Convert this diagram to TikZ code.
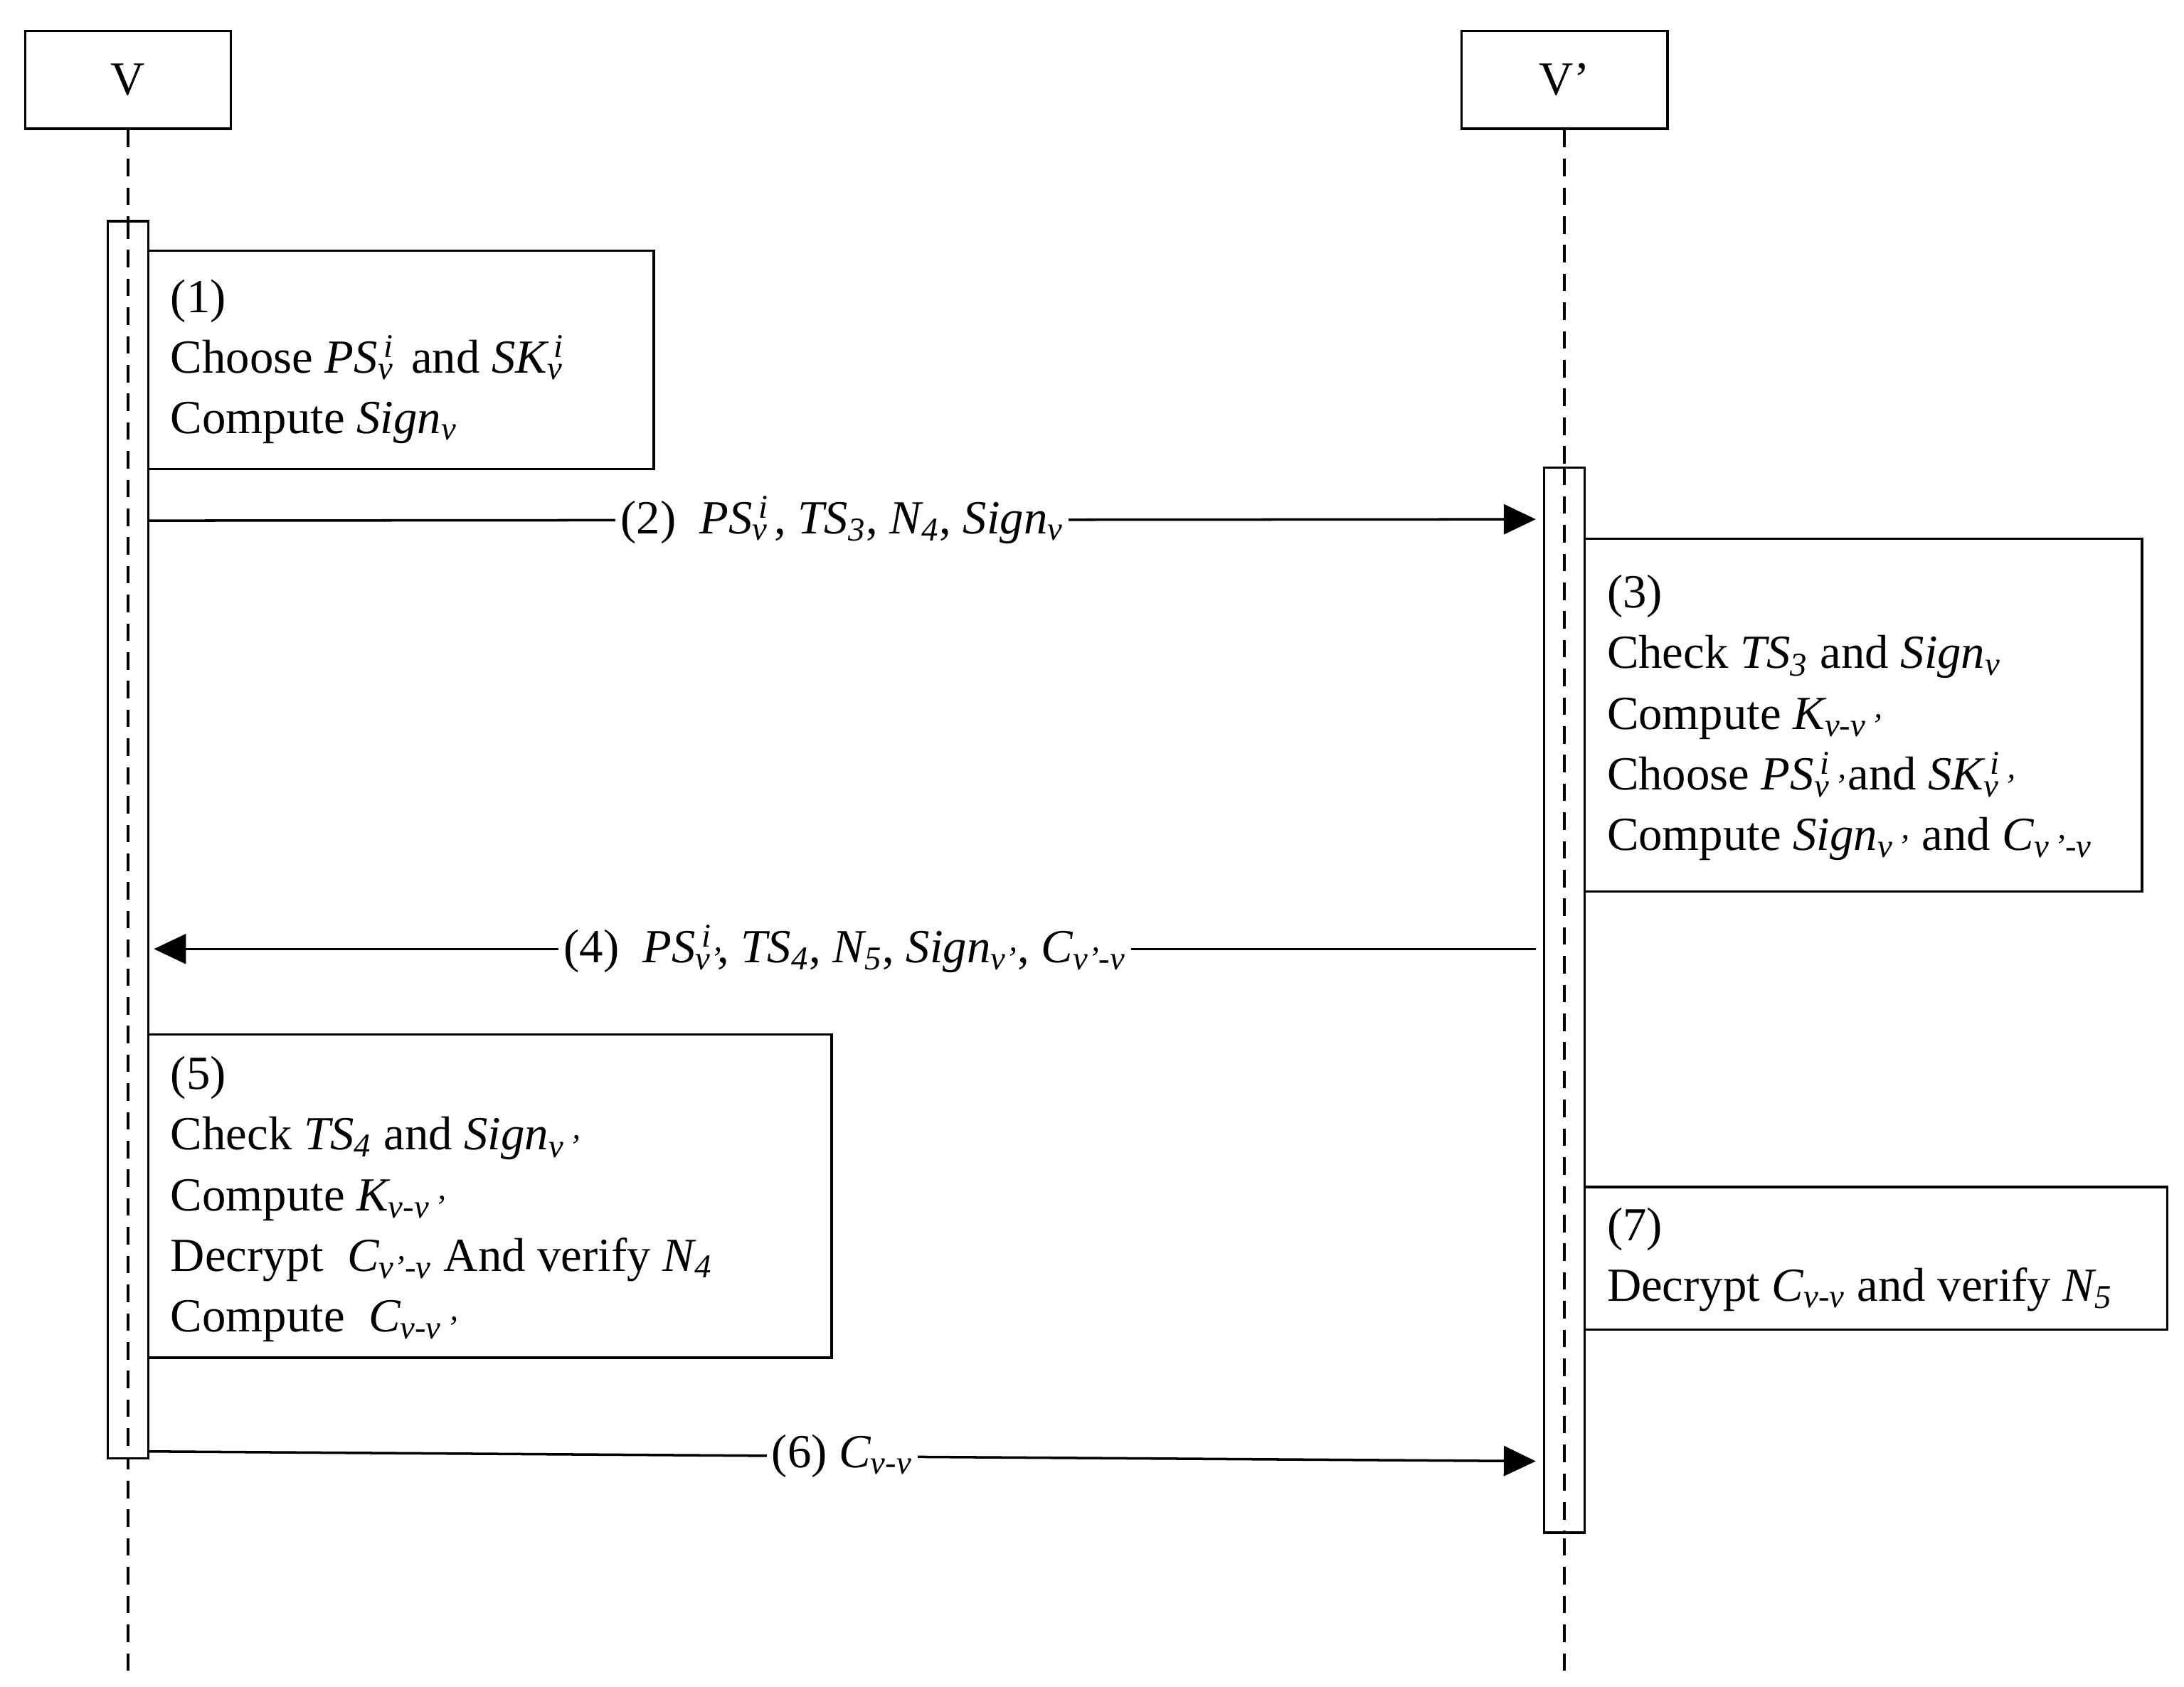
\documentclass[tikz,border=0pt]{standalone}
\usepackage{fontspec}
\setmainfont{Liberation Serif}
\usetikzlibrary{arrows.meta}
\newcommand\lo[1]{\textsubscript{#1}}
\newcommand\losup[2]{\textsubscript{\rlap{#1}}\kern2pt\textsuperscript{#2}\kern2pt}
\begin{document}
\begin{tikzpicture}[x=0.01968cm,y=-0.01968cm,line width=1pt,
  every node/.style={font=\fontsize{19}{24.2}\selectfont},
  actor/.style={draw,minimum width=147*0.01968cm,minimum height=70*0.01968cm,inner sep=0},
  life/.style={dash pattern=on 7pt off 4.5pt},
  act/.style={draw,fill=white,minimum width=29*0.01968cm,inner sep=0},
  txt/.style={align=left,anchor=north west,inner sep=0},
  msg/.style={-{Triangle[length=0.45cm,width=0.42cm]}},
  lab/.style={fill=white,inner sep=2pt}]
\useasboundingbox (0,0) rectangle (1560,1205);
\node[actor] (V) at (91.5,57) {V};
\node[actor] (W) at (1117.5,57) {V'};
\coordinate (Ve) at (91.5,1195);
\coordinate (We) at (1117.5,1195);
\draw[life] (V) -- (Ve);
\draw[life] (W) -- (We);
% activations
\node[act,minimum height=884*0.01968cm] (AV) at (91.5,600) {};
\node[act,minimum height=761*0.01968cm] (AW) at (1117.5,714.5) {};
\draw[life] (91.5,158) -- (91.5,1042);
\draw[life] (1117.5,334) -- (1117.5,1095);
% note 1
\draw (106,179) -- (467,179) -- (467,335) -- (106,335);
\node[txt] (n1) at (121,199) {(1)\\Choose \textit{PS\losup{v}{i}} and \textit{SK\losup{v}{i}}\\Compute \textit{Sign\lo{v}}};
% note 3
\draw (1132,385) -- (1530,385) -- (1530,637) -- (1132,637);
\node[txt] (n3) at (1147,410) {(3)\\Check \textit{TS\lo{3}} and \textit{Sign\lo{v}}\\Compute \textit{K\lo{v-v\,'}}\\Choose \textit{PS\losup{v\,'}{i}} and \textit{SK\losup{v\,'}{i}}\\Compute \textit{Sign\lo{v\,'}} and \textit{C\lo{v\,'-v}}};
% note 5
\draw (106,739) -- (594,739) -- (594,970) -- (106,970);
\node[txt] (n5) at (121,754) {(5)\\Check \textit{TS\lo{4}} and \textit{Sign\lo{v\,'}}\\Compute \textit{K\lo{v-v\,'}}\\Decrypt~ \textit{C\lo{v'-v}} And verify \textit{N\lo{4}}\\Compute~ \textit{C\lo{v-v\,'}}};
% note 7
\draw (1132,848) -- (1548,848) -- (1548,950) -- (1132,950);
\node[txt] (n7) at (1147,862) {(7)\\Decrypt \textit{C\lo{v-v}} and verify \textit{N\lo{5}}};
% messages
\coordinate (m2a) at (106,372); \coordinate (m2b) at (1097,371);
\coordinate (m4a) at (1097,678); \coordinate (m4b) at (110,678);
\coordinate (m6a) at (106,1037); \coordinate (m6b) at (1097,1044);
\draw[msg] (m2a) -- node[lab] {(2)~ \textit{PS\losup{v}{i}}, \textit{TS\lo{3}}, \textit{N\lo{4}}, \textit{Sign\lo{v}}} (m2b);
\draw[msg] (m4a) -- node[lab] {(4)~ \textit{PS\losup{v'}{i}}, \textit{TS\lo{4}}, \textit{N\lo{5}}, \textit{Sign\lo{v'}}, \textit{C\lo{v'-v}}} (m4b);
\draw[msg] (m6a) -- node[lab] {(6) \textit{C\lo{v-v}}} (m6b);
\end{tikzpicture}
\end{document}
